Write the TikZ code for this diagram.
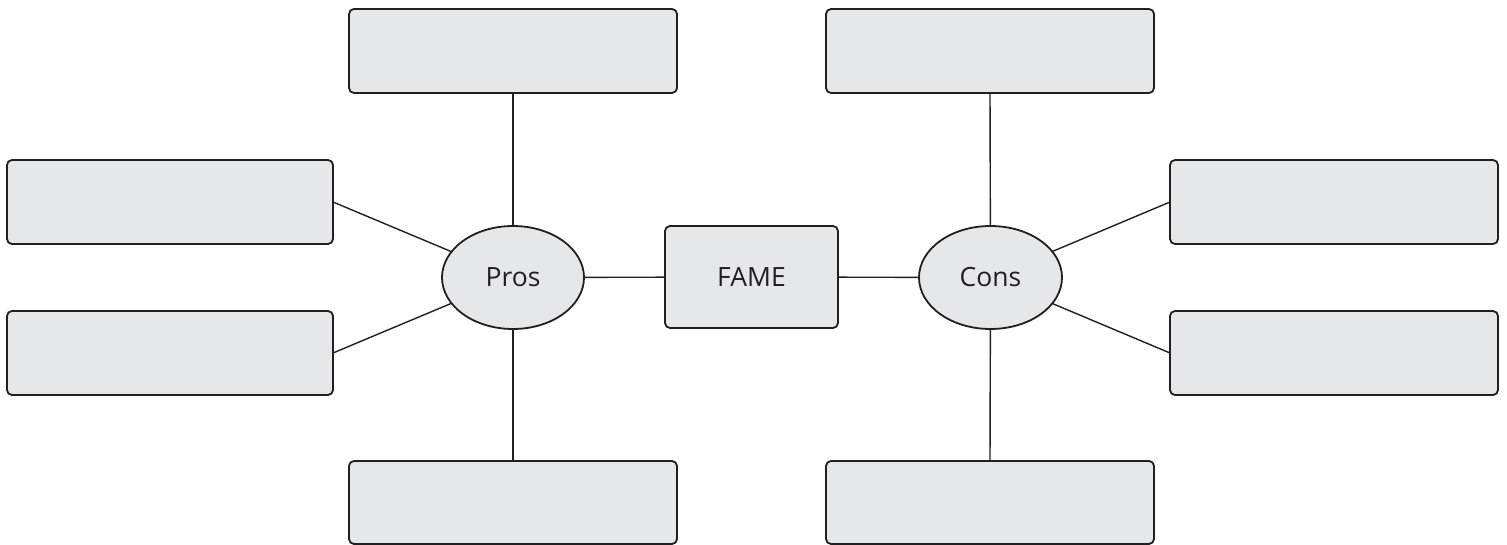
\documentclass[tikz,border=0pt]{standalone}
\usepackage{fontspec}
\setmainfont{Open Sans}
\usetikzlibrary{shapes.geometric}
\definecolor{boxfill}{HTML}{E6E7E8}
\definecolor{ink}{HTML}{231F20}
\begin{document}
\begin{tikzpicture}[x=1pt,y=-1pt,
  blank/.style={draw=ink,fill=boxfill,line width=1.8pt,rounded corners=5pt,inner sep=0pt,minimum height=84pt,outer sep=0pt},
  wideblank/.style={blank,minimum width=328pt},
  sideblank/.style={blank,minimum width=326pt},
  oval/.style={ellipse,draw=ink,fill=boxfill,line width=1.8pt,minimum width=142pt,minimum height=103pt,inner sep=0pt,outer sep=0pt,text=ink,font=\fontsize{26.5}{30}\selectfont},
  link/.style={draw=ink,line width=1.4pt}]
\useasboundingbox (0,0) rectangle (1507,545);
\node[wideblank] (tl) at (513,51) {};
\node[sideblank] (lu) at (170,202) {};
\node[sideblank] (ll) at (170,353) {};
\node[wideblank,minimum height=83pt] (bl) at (513,502.5) {};
\node[wideblank] (tr) at (990,51) {};
\node[wideblank] (ru) at (1334,202) {};
\node[wideblank] (rl) at (1334,353) {};
\node[wideblank,minimum height=83pt] (br) at (990,502.5) {};
\node[oval] (pros) at (513,277.5) {Pros};
\node[oval,minimum width=143pt] (cons) at (990.5,277.5) {Cons};
\node[draw=ink,fill=boxfill,line width=1.8pt,rounded corners=5pt,minimum width=173pt,minimum height=102pt,inner sep=0pt,outer sep=0pt,text=ink,font=\fontsize{26.5}{30}\selectfont] (fame) at (751.5,277) {FAME};
\draw[link] (tl.south) -- (pros);
\draw[link] (lu.east) -- (pros);
\draw[link] (ll.east) -- (pros);
\draw[link] (bl.north) -- (pros);
\draw[link] (pros) -- (fame);
\draw[link] (fame) -- (cons);
\draw[link] (tr.south) -- (cons);
\draw[link] (ru.west) -- (cons);
\draw[link] (rl.west) -- (cons);
\draw[link] (br.north) -- (cons);
\end{tikzpicture}
\end{document}
